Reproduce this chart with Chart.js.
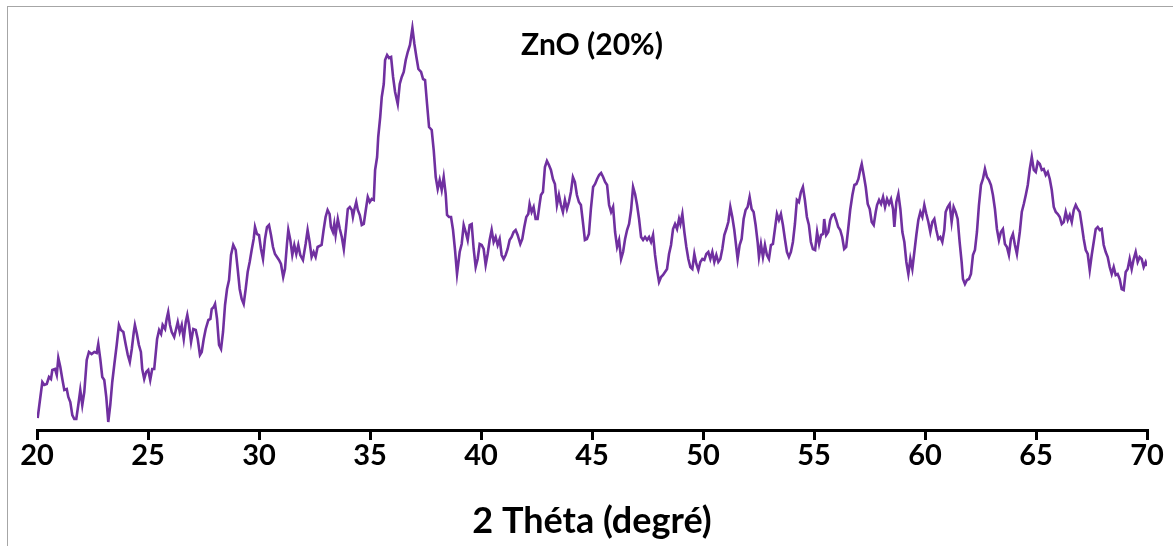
<!DOCTYPE html>
<html>
<head>
<meta charset="utf-8">
<script src="https://cdn.jsdelivr.net/npm/chart.js@4.4.1/dist/chart.umd.min.js"></script>
<style>
  html, body { margin: 0; padding: 0; background: #fff; overflow: hidden; }
  #wrap { position: relative; width: 1173px; height: 546px; }
  #frame { position: absolute; left: 7px; top: 6px; width: 1400px; height: 800px;
           border-left: 1.5px solid #a6a6a6; border-top: 1.5px solid #a6a6a6; }
  canvas { position: absolute; left: 0; top: 0; }
</style>
</head>
<body>
<div id="wrap">
  <div id="frame"></div>
  <canvas id="xrd" width="1173" height="546"></canvas>
</div>
<script>
// ZnO (20%) — XRD pattern, intensity in arbitrary units
const chartTitle = 'ZnO (20%)';
const axisTitle = '2 Théta (degré)';
const xTicks = [20, 25, 30, 35, 40, 45, 50, 55, 60, 65, 70];

const twoTheta = [
  20.03, 20.14, 20.24, 20.33, 20.44, 20.54, 20.63, 20.69, 20.81, 20.89, 20.96, 21.05, 21.14, 21.23, 21.34, 21.41,
  21.50, 21.59, 21.68, 21.77, 21.86, 21.95, 22.04, 22.13, 22.24, 22.34, 22.46, 22.58, 22.69, 22.76, 22.85, 22.94,
  23.03, 23.12, 23.21, 23.30, 23.39, 23.48, 23.59, 23.69, 23.78, 23.89, 24.00, 24.09, 24.18, 24.27, 24.36, 24.41,
  24.50, 24.59, 24.68, 24.74, 24.83, 24.92, 25.01, 25.10, 25.19, 25.28, 25.41, 25.50, 25.59, 25.66, 25.77, 25.84,
  25.91, 25.99, 26.07, 26.18,
  26.34, 26.43, 26.52, 26.61, 26.70, 26.77, 26.85, 26.94, 27.04, 27.15, 27.24, 27.34, 27.42, 27.51, 27.60, 27.72,
  27.81, 27.87, 27.96, 28.02, 28.11, 28.20, 28.29, 28.38, 28.47, 28.56, 28.65, 28.74, 28.84, 28.95, 29.04, 29.13,
  29.22, 29.31, 29.40, 29.49, 29.58, 29.67, 29.76, 29.82, 29.91, 30.00, 30.09, 30.18, 30.27, 30.36, 30.45, 30.54,
  30.63, 30.72, 30.81, 30.90, 30.99, 31.09, 31.17, 31.26, 31.32, 31.41, 31.50, 31.59, 31.68, 31.77, 31.86, 31.98,
  32.10, 32.19, 32.28, 32.37, 32.46, 32.55, 32.64,
  32.82, 32.91, 33.00, 33.09, 33.18, 33.24, 33.33, 33.39, 33.45, 33.55, 33.64, 33.73, 33.82, 33.91, 34.00, 34.09,
  34.18, 34.23, 34.29, 34.38, 34.45, 34.54, 34.63, 34.72, 34.81, 34.90, 34.99, 35.08, 35.17, 35.23, 35.32, 35.37,
  35.46, 35.53, 35.62, 35.68, 35.77, 35.86, 35.95, 36.04, 36.13, 36.25, 36.34, 36.43, 36.52, 36.61, 36.70, 36.80,
  36.91, 37.00, 37.09, 37.18, 37.30, 37.39, 37.48, 37.57, 37.66, 37.78, 37.87, 37.96, 38.05, 38.14, 38.23, 38.32,
  38.41, 38.47, 38.56, 38.65, 38.74, 38.83, 38.92,
  39.04, 39.13, 39.22, 39.31, 39.40, 39.49, 39.58, 39.67, 39.76, 39.85, 39.94, 40.03, 40.12, 40.21, 40.30, 40.39,
  40.48, 40.57, 40.66, 40.75, 40.84, 40.93, 41.02, 41.11, 41.20, 41.29, 41.38, 41.47, 41.56, 41.65, 41.77, 41.86,
  41.95, 42.04, 42.13, 42.19, 42.28, 42.37, 42.46, 42.55, 42.64, 42.70, 42.79, 42.88, 42.97, 43.06, 43.15, 43.24,
  43.33, 43.42, 43.51, 43.60, 43.69, 43.78, 43.87, 43.96, 44.05, 44.14, 44.23, 44.32, 44.41, 44.50, 44.59, 44.68,
  44.77, 44.86, 44.95, 45.05, 45.14,
  45.23, 45.32, 45.41, 45.50, 45.59, 45.68, 45.77, 45.86, 45.95, 46.04, 46.13, 46.22, 46.31, 46.40, 46.49, 46.58,
  46.67, 46.76, 46.85, 46.94, 47.03, 47.12, 47.21, 47.30, 47.39, 47.48, 47.57, 47.66, 47.75, 47.84, 47.93, 48.02,
  48.11, 48.20, 48.29, 48.38, 48.47, 48.56, 48.65, 48.74, 48.83, 48.92, 48.98, 49.07, 49.16, 49.25, 49.34, 49.43,
  49.52, 49.61, 49.70, 49.79, 49.88, 49.97, 50.06, 50.15, 50.24, 50.33, 50.42, 50.51, 50.60, 50.69, 50.78, 50.87,
  50.96, 51.05, 51.14, 51.23, 51.32, 51.41,
  51.56, 51.65, 51.74, 51.83, 51.92, 52.01, 52.10, 52.19, 52.28, 52.37, 52.46, 52.52, 52.61, 52.70, 52.79, 52.88,
  52.97, 53.06, 53.15, 53.24, 53.33, 53.42, 53.51, 53.60, 53.69, 53.78, 53.87, 53.96, 54.05, 54.14, 54.23, 54.32,
  54.41, 54.50, 54.59, 54.68, 54.77, 54.86, 54.95, 55.05, 55.14, 55.23, 55.32, 55.41, 55.46, 55.55, 55.64, 55.73,
  55.82, 55.91, 56.00, 56.09, 56.18, 56.27, 56.36, 56.45, 56.54, 56.63, 56.73, 56.82, 56.91, 57.00, 57.09, 57.15,
  57.24, 57.33, 57.42, 57.51, 57.60, 57.69, 57.78,
  57.84, 57.93, 58.02, 58.11, 58.20, 58.29, 58.38, 58.47, 58.56, 58.62, 58.71, 58.80, 58.89, 58.98, 59.07, 59.16,
  59.25, 59.34, 59.43, 59.52, 59.61, 59.70, 59.79, 59.88, 59.97, 60.06, 60.15, 60.24, 60.33, 60.42, 60.51, 60.60,
  60.69, 60.78, 60.87, 60.93, 61.02, 61.11, 61.20, 61.29, 61.38, 61.47, 61.56, 61.65, 61.71, 61.80, 61.89, 61.98,
  62.07, 62.16, 62.25, 62.34, 62.43, 62.52, 62.61, 62.70, 62.79, 62.88, 62.97, 63.06, 63.15, 63.24, 63.33, 63.42,
  63.51, 63.60, 63.69, 63.78, 63.87, 63.96, 64.05, 64.14,
  64.27, 64.36, 64.45, 64.54, 64.63, 64.72, 64.81, 64.90, 64.99, 65.08, 65.17, 65.26, 65.35, 65.44, 65.53, 65.62,
  65.71, 65.80, 65.89, 65.98, 66.07, 66.16, 66.25, 66.34, 66.43, 66.52, 66.61, 66.70, 66.79, 66.88, 66.97, 67.06,
  67.15, 67.24, 67.33, 67.42, 67.51, 67.60, 67.69, 67.78, 67.87, 67.96, 68.05, 68.14, 68.23, 68.32, 68.41, 68.50,
  68.59, 68.68, 68.77, 68.86, 68.95, 69.04, 69.13, 69.22, 69.31, 69.40, 69.49, 69.58, 69.67, 69.76, 69.85, 69.94,
  70.00
];

const intensity = [
  12, 31, 48, 45, 46, 53, 51, 60, 61, 55, 72, 63, 51, 40, 41, 33,
  28, 15, 11, 11, 25, 40, 25, 38, 70, 78, 76, 78, 77, 86, 71, 53,
  50, 33, 8, 25, 48, 65, 85, 105, 100, 98, 85, 75, 68, 81, 98, 105,
  96, 85, 78, 61, 51, 58, 60, 50, 61, 61, 91, 100, 96, 105, 101, 111,
  118, 105, 98, 93,
  108, 98, 105, 91, 108, 115, 105, 88, 101, 100, 91, 75, 78, 91, 101, 110,
  111, 121, 123, 126, 111, 85, 81, 98, 125, 141, 150, 175, 185, 180, 161, 141,
  131, 126, 141, 158, 168, 180, 191, 203, 196, 195, 181, 171, 191, 203, 205, 195,
  183, 176, 173, 170, 166, 153, 161, 186, 200, 190, 175, 185, 176, 185, 175, 170,
  186, 200, 188, 173, 178, 173, 183,
  185, 200, 213, 220, 216, 203, 198, 206, 195, 211, 201, 193, 181, 200, 221, 223,
  220, 213, 220, 228, 220, 215, 205, 206, 220, 233, 228, 231, 230, 260, 273, 293,
  313, 333, 346, 370, 375, 372, 373, 353, 338, 326, 346, 353, 358, 370, 378, 385,
  402, 386, 373, 361, 358, 351, 350, 326, 303, 300, 280, 253, 241, 250, 240, 253,
  236, 215, 213, 213, 200, 180, 156,
  178, 186, 205, 198, 190, 205, 206, 181, 163, 171, 186, 185, 181, 165, 176, 190,
  200, 188, 193, 185, 191, 175, 171, 175, 181, 190, 193, 198, 200, 195, 186, 191,
  203, 213, 216, 226, 218, 223, 211, 211, 226, 235, 238, 263, 269, 265, 260, 251,
  246, 225, 235, 225, 218, 230, 221, 228, 238, 253, 248, 235, 228, 225, 208, 190,
  191, 196, 221, 243, 246,
  251, 255, 257, 253, 248, 245, 225, 218, 223, 198, 183, 190, 171, 178, 191, 200,
  206, 220, 243, 236, 225, 211, 193, 190, 193, 190, 193, 188, 195, 175, 160, 148,
  153, 155, 158, 161, 176, 185, 201, 206, 201, 211, 206, 216, 198, 183, 171, 163,
  161, 176, 166, 160, 168, 171, 170, 176, 178, 171, 178, 168, 175, 168, 171, 181,
  195, 201, 208, 223, 213, 200,
  171, 185, 191, 211, 220, 223, 233, 221, 218, 205, 188, 173, 186, 173, 185, 175,
  171, 185, 186, 201, 216, 210, 216, 205, 191, 178, 173, 178, 188, 206, 230, 228,
  238, 243, 230, 213, 205, 188, 181, 180, 198, 186, 195, 196, 211, 195, 198, 210,
  215, 216, 210, 203, 200, 193, 181, 183, 201, 220, 235, 245, 246, 251, 261, 266,
  255, 243, 226, 221, 208, 205, 218,
  225, 230, 226, 233, 223, 231, 226, 231, 221, 203, 228, 236, 221, 198, 188, 168,
  156, 171, 161, 178, 195, 210, 218, 213, 225, 216, 208, 198, 208, 211, 200, 191,
  193, 188, 200, 218, 223, 226, 208, 223, 218, 211, 188, 168, 151, 146, 150, 151,
  156, 175, 180, 198, 225, 245, 251, 261, 253, 250, 245, 235, 221, 201, 190, 198,
  201, 186, 183, 175, 191, 196, 185, 176,
  198, 218, 226, 235, 245, 261, 273, 260, 258, 268, 266, 260, 261, 255, 258, 251,
  240, 223, 218, 216, 213, 206, 208, 218, 210, 215, 208, 220, 225, 221, 218, 205,
  191, 180, 176, 160, 175, 188, 201, 203, 200, 201, 185, 178, 173, 163, 156, 163,
  155, 156, 151, 141, 140, 158, 161, 171, 161, 171, 178, 168, 173, 171, 163, 168,
  164
];

const overlayTitle = {
  id: 'overlayTitle',
  afterDraw(chart) {
    const { ctx, chartArea } = chart;
    ctx.save();
    ctx.font = 'bold 30px Lato';
    ctx.fillStyle = '#000';
    ctx.textAlign = 'center';
    ctx.textBaseline = 'middle';
    ctx.fillText(chartTitle, (chartArea.left + chartArea.right) / 2, 45);
    ctx.restore();
  }
};

const ctx = document.getElementById('xrd').getContext('2d');
new Chart(ctx, {
  type: 'line',
  data: {
    datasets: [{
      data: twoTheta.map((x, i) => ({ x, y: intensity[i] })),
      borderColor: '#7030A0',
      borderWidth: 2.6,
      pointRadius: 0,
      tension: 0,
      fill: false,
    }],
  },
  options: {
    responsive: false,
    animation: false,
    devicePixelRatio: 1,
    layout: { padding: { left: 37, right: 26, top: 20, bottom: 0 } },
    plugins: { legend: { display: false }, tooltip: { enabled: false }, title: { display: false } },
    scales: {
      x: {
        type: 'linear',
        min: 20,
        max: 70,
        afterBuildTicks: scale => { scale.ticks = xTicks.map(v => ({ value: v })); },
        afterFit: scale => { scale.height = 116; },
        ticks: {
          color: '#000',
          font: { family: 'Lato', size: 29, weight: 'bold' },
          padding: -2,
          maxRotation: 0,
          autoSkip: false,
        },
        grid: { drawOnChartArea: false, drawTicks: true, tickLength: 10, color: '#000', lineWidth: 3 },
        border: { color: '#000', width: 3 },
        title: {
          display: true,
          text: axisTitle,
          color: '#000',
          font: { family: 'Lato', size: 36, weight: 'bold' },
          padding: { top: 0, bottom: 3 },
        },
      },
      y: { display: false, min: 0, max: 410 },
    },
  },
  plugins: [overlayTitle],
});
</script>
</body>
</html>
